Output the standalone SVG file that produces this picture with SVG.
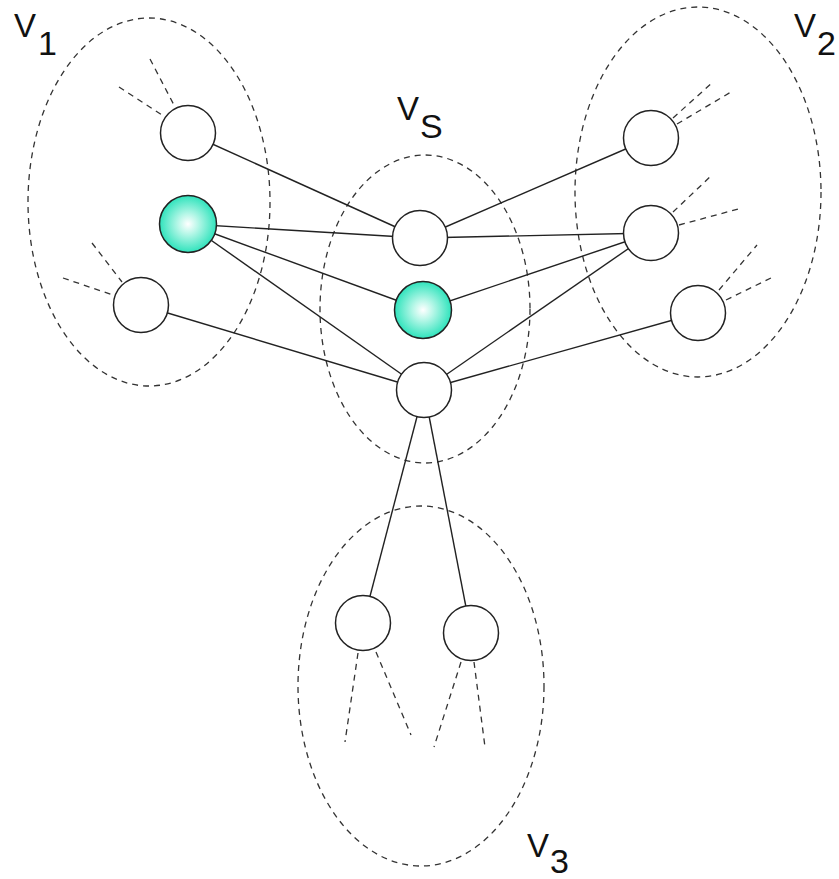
<svg xmlns="http://www.w3.org/2000/svg" width="839" height="879" viewBox="0 0 839 879">
<defs>
<radialGradient id="cyan" cx="0.5" cy="0.5" r="0.5">
<stop offset="0" stop-color="#ffffff"/>
<stop offset="0.35" stop-color="#b8f7e8"/>
<stop offset="1" stop-color="#2fe3bc"/>
</radialGradient>
<style>
.set{fill:none;stroke:#333;stroke-width:1.3;stroke-dasharray:6,5}
.stub{fill:none;stroke:#333;stroke-width:1.3;stroke-dasharray:6,5}
.edge{stroke:#222;stroke-width:1.4}
.n{fill:#fff;stroke:#222;stroke-width:1.5}
.c{fill:url(#cyan);stroke:#222;stroke-width:1.5}
.lbl{font-family:"Liberation Sans",Arial,sans-serif;font-size:33px;fill:#111}
.sub{font-family:"Liberation Sans",Arial,sans-serif;font-size:34px;fill:#111}
</style>
</defs>
<rect width="839" height="879" fill="#fff"/>
<g id="sets">
<ellipse id="set-v1" class="set" cx="149" cy="202" rx="121" ry="184"/>
<ellipse id="set-v2" class="set" cx="698" cy="192" rx="123" ry="185"/>
<ellipse id="set-vs" class="set" cx="425" cy="309" rx="105" ry="154"/>
<ellipse id="set-v3" class="set" cx="421" cy="686" rx="123" ry="180"/>
</g>
<g id="connectors">
<line class="edge" x1="188" y1="133" x2="420" y2="238"/>
<line class="edge" x1="188" y1="224" x2="420" y2="238"/>
<line class="edge" x1="188" y1="224" x2="423" y2="310"/>
<line class="edge" x1="188" y1="224" x2="424" y2="390"/>
<line class="edge" x1="141" y1="305" x2="424" y2="390"/>
<line class="edge" x1="651" y1="138" x2="420" y2="238"/>
<line class="edge" x1="651" y1="233" x2="420" y2="238"/>
<line class="edge" x1="651" y1="233" x2="423" y2="310"/>
<line class="edge" x1="651" y1="233" x2="424" y2="390"/>
<line class="edge" x1="698" y1="313" x2="424" y2="390"/>
<line class="edge" x1="424" y1="390" x2="363" y2="623"/>
<line class="edge" x1="424" y1="390" x2="471" y2="633"/>
<line class="stub" x1="150" y1="59" x2="175" y2="107"/>
<line class="stub" x1="119" y1="87" x2="165" y2="117"/>
<line class="stub" x1="92" y1="243" x2="122" y2="282"/>
<line class="stub" x1="63" y1="278" x2="113" y2="295"/>
<line class="stub" x1="673" y1="118" x2="713" y2="82"/>
<line class="stub" x1="677" y1="124" x2="731" y2="92"/>
<line class="stub" x1="673" y1="212" x2="712" y2="175"/>
<line class="stub" x1="679" y1="225" x2="742" y2="208"/>
<line class="stub" x1="719" y1="290" x2="757" y2="245"/>
<line class="stub" x1="726" y1="300" x2="773" y2="277"/>
<line class="stub" x1="358" y1="653" x2="345" y2="742"/>
<line class="stub" x1="376" y1="652" x2="411" y2="735"/>
<line class="stub" x1="461" y1="662" x2="434" y2="747"/>
<line class="stub" x1="474" y1="662" x2="485" y2="747"/>
</g>
<g id="v1-a"><circle class="n" cx="188" cy="133" r="27.5"/></g>
<g id="v1-b"><circle class="c" cx="188" cy="224" r="28.5"/></g>
<g id="v1-c"><circle class="n" cx="141" cy="305" r="27.5"/></g>
<g id="v2-a"><circle class="n" cx="651" cy="138" r="27.5"/></g>
<g id="v2-b"><circle class="n" cx="651" cy="233" r="27.5"/></g>
<g id="v2-c"><circle class="n" cx="698" cy="313" r="27.5"/></g>
<g id="vs-a"><circle class="n" cx="420" cy="238" r="27.5"/></g>
<g id="vs-b"><circle class="c" cx="423" cy="310" r="28.5"/></g>
<g id="vs-c"><circle class="n" cx="424" cy="390" r="27.5"/></g>
<g id="v3-a"><circle class="n" cx="363" cy="623" r="27.5"/></g>
<g id="v3-b"><circle class="n" cx="471" cy="633" r="27.5"/></g>
<g id="labels">
<text class="lbl" x="14" y="37">V</text><text class="sub" x="38" y="55">1</text>
<text class="lbl" x="794" y="37">V</text><text class="sub" x="817" y="55">2</text>
<text class="lbl" x="397" y="120">V</text><text class="sub" x="420" y="138">S</text>
<text class="lbl" x="527" y="857">V</text><text class="sub" x="550" y="873">3</text>
</g>
</svg>
